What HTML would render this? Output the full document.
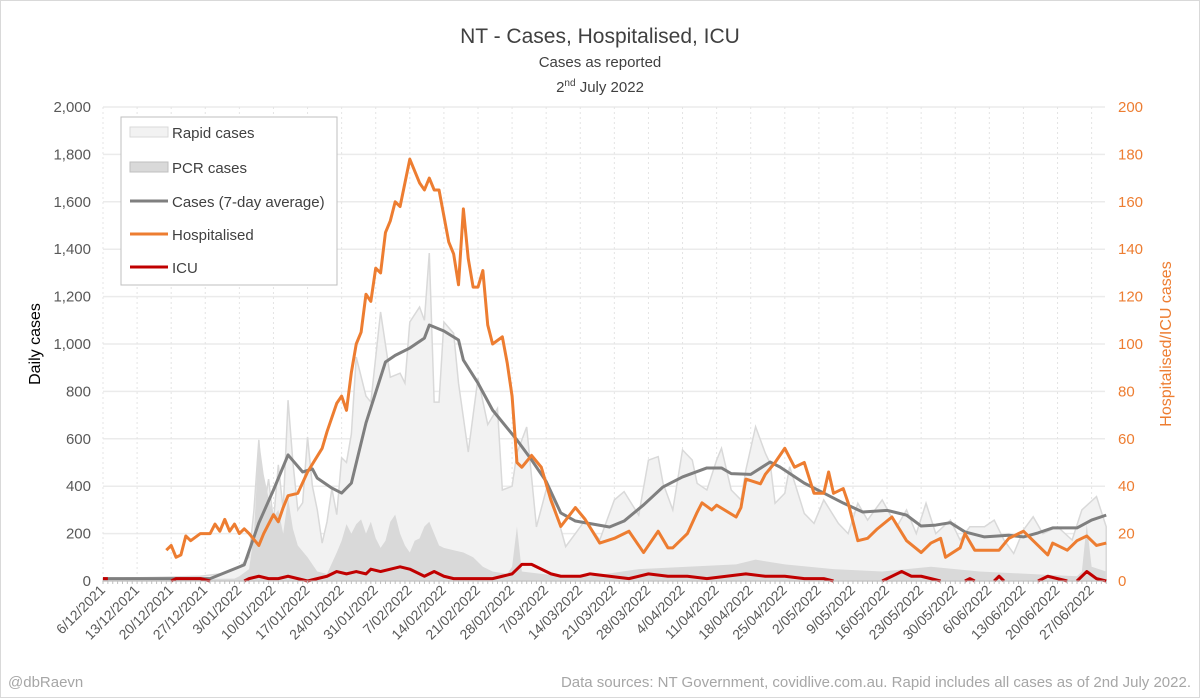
<!DOCTYPE html>
<html><head><meta charset="utf-8"><style>
body{margin:0;background:#fff;}
svg{display:block;font-family:"Liberation Sans",sans-serif;}
</style></head><body>
<svg id="chart" width="1200" height="698" viewBox="0 0 1200 698">
<rect x="0.5" y="0.5" width="1199" height="697" fill="#fff" stroke="#d9d9d9"/>
<text x="600" y="43" text-anchor="middle" font-size="21" fill="#404040">NT - Cases, Hospitalised, ICU</text>
<text x="600" y="67" text-anchor="middle" font-size="15" fill="#404040">Cases as reported</text>
<text x="600" y="92" text-anchor="middle" font-size="15" fill="#404040">2<tspan font-size="10" dy="-6">nd</tspan><tspan dy="6"> July 2022</tspan></text>
<g id="grid"></g>
<g id="areas"></g>
<g id="lines"></g>
<g id="axes"></g>
<text transform="translate(40,344) rotate(-90)" text-anchor="middle" font-size="16" fill="#000">Daily cases</text>
<text transform="translate(1171,344) rotate(-90)" text-anchor="middle" font-size="16" fill="#ED7D31">Hospitalised/ICU cases</text>
<g>
<rect x="121" y="117" width="216" height="168" fill="#fff" stroke="#bfbfbf"/>
<rect x="130" y="127" width="38" height="10" fill="#f2f2f2" stroke="#d9d9d9"/>
<text x="172" y="138" font-size="15" fill="#404040">Rapid cases</text>
<rect x="130" y="162" width="38" height="10" fill="#d9d9d9" stroke="#bfbfbf"/>
<text x="172" y="173" font-size="15" fill="#404040">PCR cases</text>
<line x1="130" y1="201" x2="168" y2="201" stroke="#7f7f7f" stroke-width="3"/>
<text x="172" y="207" font-size="15" fill="#404040">Cases (7-day average)</text>
<line x1="130" y1="234" x2="168" y2="234" stroke="#ED7D31" stroke-width="3"/>
<text x="172" y="240" font-size="15" fill="#404040">Hospitalised</text>
<line x1="130" y1="267" x2="168" y2="267" stroke="#C00000" stroke-width="3"/>
<text x="172" y="273" font-size="15" fill="#404040">ICU</text>
</g>
<text x="8" y="687" font-size="15" fill="#a6a6a6">@dbRaevn</text>
<text x="1191" y="687" text-anchor="end" font-size="15" fill="#a6a6a6">Data sources: NT Government, covidlive.com.au. Rapid includes all cases as of 2nd July 2022.</text>
</svg>
<script>
const dateLabels=["6/12/2021","13/12/2021","20/12/2021","27/12/2021","3/01/2022","10/01/2022","17/01/2022","24/01/2022","31/01/2022","7/02/2022","14/02/2022","21/02/2022","28/02/2022","7/03/2022","14/03/2022","21/03/2022","28/03/2022","4/04/2022","11/04/2022","18/04/2022","25/04/2022","2/05/2022","9/05/2022","16/05/2022","23/05/2022","30/05/2022","6/06/2022","13/06/2022","20/06/2022","27/06/2022"];
const leftTicks=[0,200,400,600,800,1000,1200,1400,1600,1800,2000];
const rightTicks=[0,20,40,60,80,100,120,140,160,180,200];
const rapidDays=[0,10,20,24,26,28,30,31,32,33,34,35,36,37,38,39,40,41,42,43,44,45,46,47,48,49,50,51,52,54,55,57,59,61,62,63,65,66,67,68,69,70,72,73,75,76,77,79,81,82,84,85,87,89,91,92,95,97,99,102,105,107,110,112,114,115,117,119,121,122,124,126,127,129,131,132,134,136,137,138,140,141,144,146,148,151,153,155,157,160,163,165,167,169,171,174,176,178,181,183,185,187,189,191,193,196,199,201,204,206];
const rapidVals=[10,15,20,30,40,60,100,300,595,300,430,250,490,300,763,500,300,330,608,400,300,160,250,390,280,520,500,620,945,780,755,1135,860,877,835,1093,1156,1100,1384,755,755,1093,1045,835,544,700,856,660,728,384,400,540,650,228,384,370,145,200,257,173,342,377,278,510,525,412,300,553,510,412,384,510,560,384,342,468,651,539,496,328,370,482,285,243,342,243,200,328,257,342,229,300,200,328,200,257,173,229,229,257,173,116,215,271,200,229,173,300,356,229];
const pcrDays=[0,27,28,30,31,32,33,34,35,36,37,38,39,40,42,44,46,48,49,50,51,52,53,54,55,56,57,58,59,60,61,62,63,64,65,66,67,68,69,70,72,74,76,78,80,83,84,85,86,90,95,100,110,120,130,134,140,150,160,170,180,190,200,201,202,203,206];
const pcrVals=[5,10,20,50,200,600,450,350,270,300,200,350,220,150,100,40,30,120,170,240,200,240,260,200,250,180,140,170,250,280,200,150,120,170,180,230,250,200,150,140,130,120,100,60,40,30,60,230,40,30,20,20,50,60,70,90,70,50,40,60,40,30,20,40,240,60,40];
const avgDays=[0,22,29,32,35,38,41,43,44,47,49,51,54,58,60,63,66,67,70,73,74,77,80,85,88,91,94,97,104,107,111,115,119,124,127,129,133,137,139,144,148,152,156,161,165,168,171,174,177,181,186,189,192,195,200,203,206];
const avgVals=[10,10,68,245,384,532,460,473,434,392,371,413,667,924,952,983,1025,1080,1055,1017,932,835,721,595,511,420,287,253,228,253,321,397,439,477,477,453,450,502,481,413,371,329,291,298,278,232,236,246,207,186,193,186,203,224,224,257,278];
const hospDays=[13,14,15,16,17,18,20,22,23,24,25,26,27,28,29,30,32,33,35,36,37,38,40,42,45,46,48,49,50,51,52,53,54,55,56,57,58,59,60,61,63,65,66,67,68,69,71,72,73,74,75,76,77,78,79,80,82,83,84,85,86,88,90,92,94,97,99,102,105,108,110,111,114,116,117,120,122,123,125,126,130,131,132,135,136,138,140,142,144,146,148,149,150,152,153,155,157,159,162,165,168,170,172,173,176,177,179,182,184,186,189,191,194,195,198,200,202,204,206];
const hospVals=[13,15,10,11,19,17,20,20,24,21,26,21,24,20,22,20,15,20,28,25,31,36,37,46,56,63,75,78,72,88,100,105,121,118,132,130,147,152,160,158,178,168,165,170,165,165,143,138,125,157,136,124,124,131,108,100,103,92,78,50,48,53,48,34,23,31,26,16,18,21,15,12,21,14,14,20,29,33,30,32,27,31,43,41,45,50,56,48,50,37,37,46,37,39,33,17,18,22,27,17,12,16,18,10,14,20,13,13,13,18,21,17,11,16,13,17,19,15,16];
const icuDays=[0,1,2,14,15,17,20,22,23,29,30,32,34,36,38,40,42,44,46,48,50,52,54,55,57,59,61,63,65,66,68,70,72,75,78,80,82,84,86,88,90,92,94,98,100,104,108,112,116,120,124,128,132,136,140,144,148,150,152,160,162,164,166,168,170,172,173,177,178,179,180,183,184,185,186,192,194,196,198,199,200,202,204,206];
const icuVals=[1,1,null,0,1,1,1,0,null,0,1,2,1,1,2,1,0,1,2,4,3,4,3,5,4,5,6,5,3,2,4,2,1,1,1,1,2,3,7,7,5,3,2,2,3,2,1,3,2,2,1,2,3,2,2,1,1,0,null,0,2,4,2,2,1,0,null,0,1,0,null,0,2,0,null,0,2,1,0,null,0,4,1,0];

const X0=103,PX=4.87,YB=581,YT=107;
const x=d=>X0+d*PX;
const yL=v=>YB-(v/2000)*(YB-YT);
const yR=v=>YB-(v/200)*(YB-YT);
const NS="http://www.w3.org/2000/svg";
function mk(tag,attrs,parent){const e=document.createElementNS(NS,tag);for(const k in attrs)e.setAttribute(k,attrs[k]);parent.appendChild(e);return e;}
const grid=document.getElementById('grid'),areas=document.getElementById('areas'),lines=document.getElementById('lines'),axes=document.getElementById('axes');

leftTicks.forEach((t,i)=>{
  if(t>0){const g=mk('line',{x1:X0,x2:1105,y1:yL(t),y2:yL(t),stroke:'#ebebeb','stroke-width':1.5},grid);
  
  }
  const tl=mk('text',{x:91,y:yL(t)+5,'text-anchor':'end','font-size':15,fill:'#595959'},axes);
  tl.textContent=t.toLocaleString('en-US');
  
  
});
rightTicks.forEach(t=>{
  const tl=mk('text',{x:1118,y:yR(t)+5,'font-size':15,fill:'#ED7D31'},axes);
  tl.textContent=t;
  
  
});
dateLabels.forEach((lab,i)=>{
  const xx=x(i*7);
  const vl=mk('line',{x1:xx,x2:xx,y1:YT,y2:YB,stroke:'#e4e4e4','stroke-dasharray':'2,3'},grid);
  
  
  const tl=mk('text',{transform:`translate(${xx+3},${YB+10}) rotate(-45)`,'text-anchor':'end','font-size':14,fill:'#595959'},axes);
  tl.textContent=lab;
  
  
});
for(let d=0;d<=206;d++){const t=mk('line',{x1:x(d),x2:x(d),y1:YB,y2:YB+3,stroke:'#bfbfbf'},axes);

}
const ax=mk('line',{x1:X0,x2:1105,y1:YB,y2:YB,stroke:'#bfbfbf'},axes);



function areaPath(days,vals){let p=`M${x(days[0])},${YB}`;days.forEach((d,i)=>p+=`L${x(d)},${yL(vals[i])}`);return p+`L${x(days[days.length-1])},${YB}Z`;}
function linePath(days,vals,yf){let p='',pen=false;days.forEach((d,i)=>{const v=vals[i];if(v===null){pen=false;return;}p+=(pen?'L':'M')+x(d)+','+yf(v);pen=true;});return p;}
const ra=mk('path',{d:areaPath(rapidDays,rapidVals),fill:'#f2f2f2',stroke:'#d9d9d9','stroke-width':1.5},areas);


const pa=mk('path',{d:areaPath(pcrDays,pcrVals),fill:'#d9d9d9',stroke:'none'},areas);


const al=mk('path',{d:linePath(avgDays,avgVals,yL),fill:'none',stroke:'#7f7f7f','stroke-width':3,'stroke-linejoin':'round'},lines);


const hl=mk('path',{d:linePath(hospDays,hospVals,yR),fill:'none',stroke:'#ED7D31','stroke-width':3,'stroke-linejoin':'round'},lines);


const il=mk('path',{d:linePath(icuDays,icuVals,yR),fill:'none',stroke:'#C00000','stroke-width':3,'stroke-linejoin':'round'},lines);


</script>
</body></html>
